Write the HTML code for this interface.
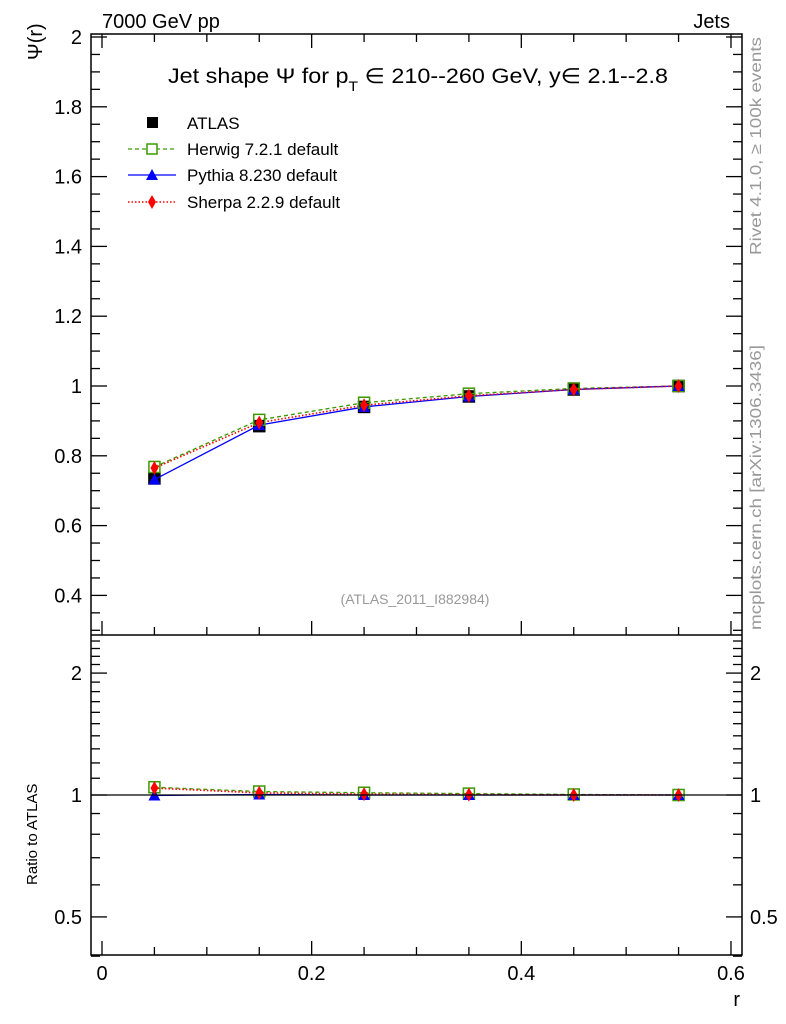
<!DOCTYPE html>
<html><head><meta charset="utf-8"><style>body{margin:0;background:#fff}svg{display:block}text{font-family:"Liberation Sans",sans-serif}</style></head><body>
<svg width="786" height="1024" viewBox="0 0 786 1024" xmlns="http://www.w3.org/2000/svg">
<g id="ticks" stroke="#000" stroke-width="1.3"></g>
<text x="102" y="28" font-size="20">7000 GeV pp</text>
<text x="730" y="28" font-size="20" text-anchor="end">Jets</text>
<text x="168" y="83" font-size="21" textLength="500" lengthAdjust="spacingAndGlyphs">Jet shape Ψ for p<tspan font-size="14" dy="8">T</tspan><tspan dy="-8"> ∈ 210--260 GeV, y∈ 2.1--2.8</tspan></text>
<text x="415" y="604" font-size="14" fill="#999" text-anchor="middle">(ATLAS_2011_I882984)</text>
<text transform="translate(761,255) rotate(-90)" font-size="16" fill="#999" textLength="218" lengthAdjust="spacingAndGlyphs">Rivet 4.1.0, ≥ 100k events</text>
<text transform="translate(761,630) rotate(-90)" font-size="16" fill="#999" textLength="285" lengthAdjust="spacingAndGlyphs">mcplots.cern.ch [arXiv:1306.3436]</text>
<text transform="translate(42,60) rotate(-90)" font-size="20">Ψ(r)</text>
<text transform="translate(37,885) rotate(-90)" font-size="15">Ratio to ATLAS</text>
<text x="740" y="1006" font-size="20" text-anchor="end">r</text>
<rect x="147" y="117" width="11" height="11" fill="#000"/>
<text x="187" y="129" font-size="17">ATLAS</text>
<line x1="128" y1="149" x2="176" y2="149" stroke="#3a9a00" stroke-dasharray="4,3" stroke-width="1.3"/>
<rect x="147" y="144" width="10" height="10" fill="#fff" stroke="#3a9a00" stroke-width="1.5"/>
<text x="187" y="155" font-size="17">Herwig 7.2.1 default</text>
<line x1="128" y1="175" x2="176" y2="175" stroke="#00f" stroke-width="1.3"/>
<polygon points="152,169 158,180 146,180" fill="#00f"/>
<text x="187" y="181" font-size="17">Pythia 8.230 default</text>
<line x1="128" y1="202" x2="176" y2="202" stroke="#f00" stroke-dasharray="1.5,2" stroke-width="1.5"/>
<polygon points="152,195 156,202 152,209 148,202" fill="#f00"/>
<text x="187" y="208" font-size="17">Sherpa 2.2.9 default</text>
<g id="data"></g>
<rect x="91" y="34" width="651" height="921" fill="none" stroke="#000" stroke-width="1.5"/>
<line x1="91" y1="635" x2="742" y2="635" stroke="#000" stroke-width="1.5"/>
<line x1="91" y1="795" x2="742" y2="795" stroke="#000" stroke-width="1.2"/>
<g id="labels" font-size="20"></g>
</svg>
<script>
const NS="http://www.w3.org/2000/svg";
function el(p,t,a,txt){const e=document.createElementNS(NS,t);for(const k in a)e.setAttribute(k,a[k]);if(txt!==undefined)e.textContent=txt;document.getElementById(p).appendChild(e);}
const X=v=>102+v*1048.3, Y=v=>386-(v-1)*349, R=v=>795-Math.log10(v)*405;
for(let i=0;i<=12;i++){const x=X(i*0.05),big=i%4==0;
 el('ticks','line',{x1:x,y1:955,x2:x,y2:955-(big?14:8)});
 el('ticks','line',{x1:x,y1:635,x2:x,y2:635-(big?14:8)});
 el('ticks','line',{x1:x,y1:34,x2:x,y2:34+(big?14:8)});}
[0,0.2,0.4,0.6].forEach(v=>el('labels','text',{x:X(v),y:980,'text-anchor':'middle'},String(v)));
for(let i=6;i<=40;i++){const v=i*0.05;const y=Y(v);if(y>635)continue;const big=i%4==0;
 el('ticks','line',{x1:91,y1:y,x2:91+(big?16:9),y2:y});el('ticks','line',{x1:742,y1:y,x2:742-(big?16:9),y2:y});}
[0.4,0.6,0.8,1,1.2,1.4,1.6,1.8,2].forEach(v=>el('labels','text',{x:82,y:Y(v)+7,'text-anchor':'end'},String(v)));
for(let v=0.4;v<=2.45;v+=0.1){const y=R(v);const big=Math.abs(v-0.5)<1e-6||Math.abs(v-1)<1e-6||Math.abs(v-2)<1e-6;
 el('ticks','line',{x1:91,y1:y,x2:91+(big?16:9),y2:y});el('ticks','line',{x1:742,y1:y,x2:742-(big?16:9),y2:y});}
[[0.5,'0.5'],[1,'1'],[2,'2']].forEach(([v,t])=>{el('labels','text',{x:82,y:R(v)+7,'text-anchor':'end'},t);el('labels','text',{x:750,y:R(v)+7},t);});
const xs=[0.05,0.15,0.25,0.35,0.45,0.55];
const atl=[0.735,0.885,0.94,0.97,0.99,1.0];
const her=[0.768,0.903,0.952,0.978,0.993,1.0];
const pyt=[0.732,0.888,0.94,0.97,0.99,1.0];
const she=[0.765,0.895,0.945,0.972,0.99,1.0];
const rh=[1.045,1.02,1.013,1.008,1.003,1.0],rp=[0.997,1.003,1.0,1.0,1.0,1.0],rs=[1.04,1.012,1.005,1.002,1.0,1.0];
function line(arr,f,stroke,dash,w){el('data','polyline',{points:xs.map((x,i)=>X(x)+','+f(arr[i])).join(' '),fill:'none',stroke:stroke,'stroke-dasharray':dash||'none','stroke-width':w||1.3});}
function sq(x,y,c,fill){el('data','rect',{x:x-5.5,y:y-5.5,width:11,height:11,fill:fill,stroke:c,'stroke-width':1.5});}
function tri(x,y){el('data','polygon',{points:`${x},${y-6} ${x+6},${y+5} ${x-6},${y+5}`,fill:'#00f'});}
function dia(x,y){el('data','polygon',{points:`${x},${y-7} ${x+4},${y} ${x},${y+7} ${x-4},${y}`,fill:'#f00'});}
xs.forEach((x,i)=>sq(X(x),Y(atl[i]),'#000','#000'));
line(her,Y,'#3a9a00','4,3');line(pyt,Y,'#00f');line(she,Y,'#f00','1.5,2',1.6);
xs.forEach((x,i)=>{sq(X(x),Y(her[i]),'#3a9a00','none');tri(X(x),Y(pyt[i]));dia(X(x),Y(she[i]));});
line(rh,R,'#3a9a00','4,3');line(rp,R,'#00f');line(rs,R,'#f00','1.5,2',1.6);
xs.forEach((x,i)=>{sq(X(x),R(rh[i]),'#3a9a00','none');tri(X(x),R(rp[i]));dia(X(x),R(rs[i]));});
</script>
</body></html>
